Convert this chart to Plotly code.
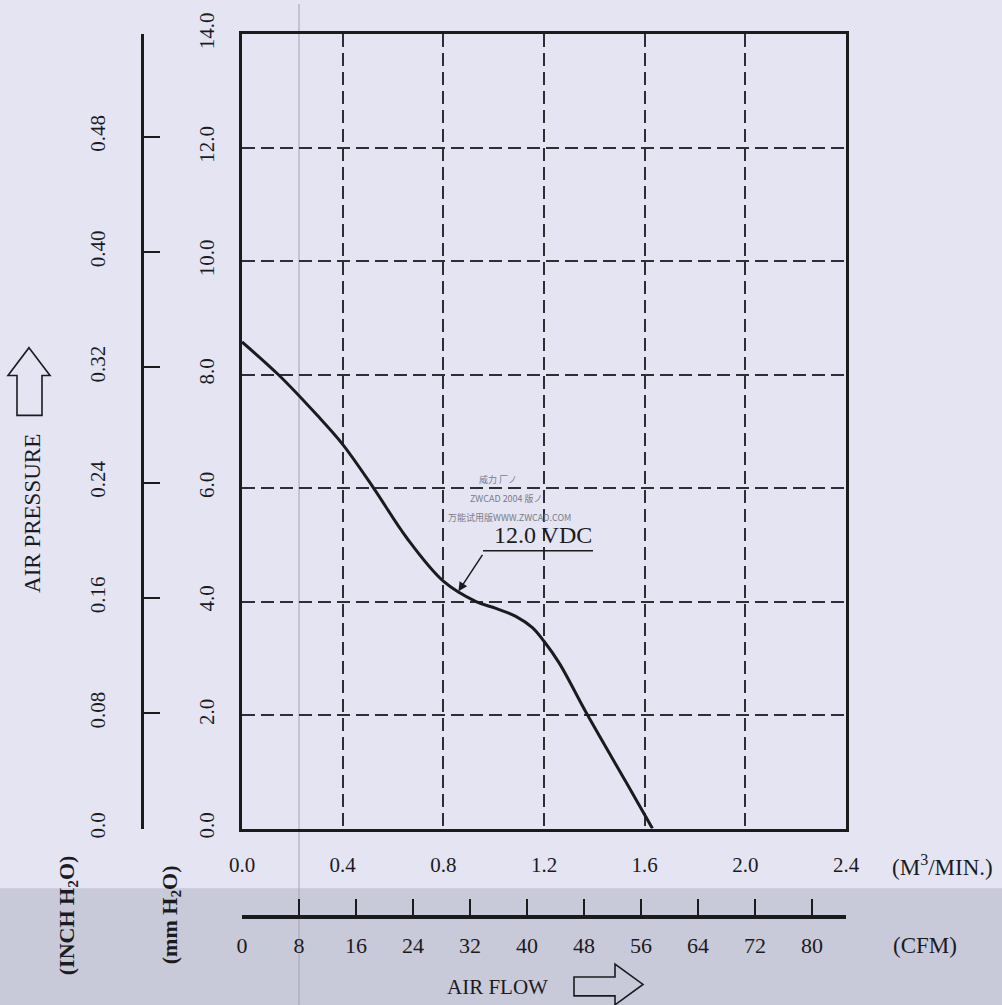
import plotly.graph_objects as go

# ---- data ----
flow_m3min = [0.0, 0.144, 0.297, 0.40, 0.523, 0.655, 0.80, 0.93, 1.009, 1.088,
              1.154, 1.20, 1.26, 1.373, 1.527, 1.631]
pressure_mm = [8.575, 8.0, 7.29, 6.77, 6.0, 5.12, 4.36, 4.0, 3.88, 3.74,
               3.54, 3.30, 2.92, 2.0, 0.81, 0.0]
curve_label = "12.0 VDC"

x_ticks = [0.0, 0.4, 0.8, 1.2, 1.6, 2.0, 2.4]
x_ticktext = ["0.0", "0.4", "0.8", "1.2", "1.6", "2.0", "2.4"]
y_ticks = [0, 2, 4, 6, 8, 10, 12, 14]
y_ticktext = ["0.0", "2.0", "4.0", "6.0", "8.0", "10.0", "12.0", "14.0"]
inch_ticks = [0.0, 0.08, 0.16, 0.24, 0.32, 0.40, 0.48]
inch_ticktext = ["0.0", "0.08", "0.16", "0.24", "0.32", "0.40", "0.48"]
cfm_ticks = [0, 8, 16, 24, 32, 40, 48, 56, 64, 72, 80]
cfm_ticktext = [str(v) for v in cfm_ticks]

X_MAX = 2.4
Y_MAX = 14.0
CFM_PER_M3MIN = 1 / 0.0283168466
MM_PER_INCH = 25.4

# ---- layout geometry ----
FW, FH = 1002, 1005
ML, MR, MT, MB = 40, 156, 30, 40
PW = FW - ML - MR
PH = FH - MT - MB


def px(x):
    return (x - ML) / PW


def py(y):
    return (FH - MB - y) / PH


X_DOM0 = px(242)
Y_DOM0 = py(828)

BG = "#E4E4F3"
INK = "#1b1b1f"
FONT = "Liberation Serif, Times New Roman, serif"

fig = go.Figure()

fig.add_trace(go.Scatter(
    x=flow_m3min, y=pressure_mm, mode="lines",
    line=dict(color=INK, width=3, shape="spline", smoothing=1.0),
    hoverinfo="skip", showlegend=False, name=curve_label,
))
# helper traces so the secondary axes are drawn
fig.add_trace(go.Scatter(x=[0], y=[0], xaxis="x2", yaxis="y", mode="markers",
                         marker=dict(opacity=0), hoverinfo="skip", showlegend=False))
fig.add_trace(go.Scatter(x=[0], y=[0], xaxis="x", yaxis="y2", mode="markers",
                         marker=dict(opacity=0), hoverinfo="skip", showlegend=False))

grid = dict(showgrid=True, gridcolor="#2c2f33", gridwidth=1.6, griddash="13px,6px")

fig.update_layout(
    width=FW, height=FH,
    margin=dict(l=ML, r=MR, t=MT, b=MB),
    paper_bgcolor=BG, plot_bgcolor=BG,
    font=dict(family=FONT, color=INK, size=21),
    showlegend=False,
    xaxis=dict(
        domain=[X_DOM0, 1], range=[0, X_MAX], tickvals=x_ticks, ticktext=x_ticktext,
        ticks="", showline=True, mirror=True, linecolor=INK, linewidth=3,
        zeroline=False, ticklabelstandoff=15, tickfont=dict(size=21), **grid,
    ),
    yaxis=dict(
        domain=[Y_DOM0, 1], range=[0, Y_MAX], tickvals=y_ticks, ticktext=y_ticktext,
        ticks="", showline=True, mirror=True, linecolor=INK, linewidth=3,
        zeroline=False, tickangle=-90, ticklabelstandoff=17, tickfont=dict(size=21), **grid,
    ),
    xaxis2=dict(
        overlaying="x", anchor="free", position=py(917), side="bottom",
        domain=[X_DOM0, 1], range=[0, X_MAX * CFM_PER_M3MIN],
        tickvals=cfm_ticks, ticktext=cfm_ticktext, ticks="inside", ticklen=16,
        tickwidth=2, tickcolor=INK, showline=True, linecolor=INK, linewidth=4,
        showgrid=False, zeroline=False, ticklabelstandoff=7, tickfont=dict(size=22),
    ),
    yaxis2=dict(
        overlaying="y", anchor="free", position=px(142), side="left",
        domain=[Y_DOM0, 1], range=[0, Y_MAX / MM_PER_INCH],
        tickvals=inch_ticks, ticktext=inch_ticktext, ticks="inside", ticklen=16,
        tickwidth=2, tickcolor=INK, showline=True, linecolor=INK, linewidth=3,
        showgrid=False, zeroline=False, tickangle=-90, ticklabelstandoff=28,
        tickfont=dict(size=21),
    ),
)

shapes = [
    # scanned gray band at the bottom
    dict(type="rect", xref="paper", yref="paper", x0=px(0), x1=px(FW), y0=py(FH + 5), y1=py(888),
         fillcolor="#C8C9D9", line=dict(width=0), layer="below"),
    # faint scanner line
    dict(type="line", xref="paper", yref="paper", x0=px(299), x1=px(299), y0=py(0), y1=py(FH),
         line=dict(color="#A2A2B2", width=1), layer="below"),
    # underline of the curve label
    dict(type="line", xref="paper", yref="paper", x0=px(483), x1=px(593), y0=py(549), y1=py(549),
         line=dict(color=INK, width=1.5)),
]


def path_from(points):
    s = "M " + " L ".join(f"{px(a):.5f},{py(b):.5f}" for a, b in points) + " Z"
    return s


up_arrow = [(29, 345), (50, 373), (42, 373), (42, 413), (17, 413), (17, 373), (8, 373)]
right_arrow = [(574, 977), (615, 977), (615, 964), (643, 984.5), (615, 1005), (615, 996), (574, 996)]
for pts in (up_arrow, right_arrow):
    shapes.append(dict(type="path", xref="paper", yref="paper", path=path_from(pts),
                       line=dict(color=INK, width=1.6), fillcolor="rgba(0,0,0,0)"))
fig.update_layout(shapes=shapes)


def note(x, y, text, size=21, angle=0, color=INK, family=FONT):
    fig.add_annotation(xref="paper", yref="paper", x=px(x), y=py(y), text=text,
                       showarrow=False, textangle=angle, xanchor="center", yanchor="middle",
                       font=dict(size=size, color=color, family=family))


note(543, 533, curve_label, size=24)
note(942, 865, "(M<sup>3</sup>/MIN.)", size=23)
note(925, 945, "(CFM)", size=23)
note(497, 987, "AIR FLOW", size=21)
note(33, 512, "AIR PRESSURE", size=23, angle=-90)
note(68, 915, "<b>(INCH H<sub>2</sub>O)</b>", size=22, angle=-90)
note(171, 915, "<b>(mm H<sub>2</sub>O)</b>", size=22, angle=-90)

CJK = "Noto Sans CJK SC, sans-serif"
note(498, 477, "威力 厂ノ", size=9, color="#7c7c88", family=CJK)
note(506, 496, "ZWCAD 2004 版ノ", size=9, color="#7c7c88", family=CJK)
note(510, 516, "万能试用版WWW.ZWCAD.COM", size=9, color="#7c7c88", family=CJK)

# leader arrow from the label underline to the curve
fig.add_annotation(x=0.86, y=4.18, xref="x", yref="y", text="", showarrow=True,
                   ax=25, ay=-38, arrowhead=2, arrowsize=1.2, arrowwidth=1.5, arrowcolor=INK)

fig.write_html("out.html",
               config={"displayModeBar": False},
               post_script="document.body.style.margin='0';document.body.style.padding='0';"
                           "document.body.style.overflow='hidden';")
